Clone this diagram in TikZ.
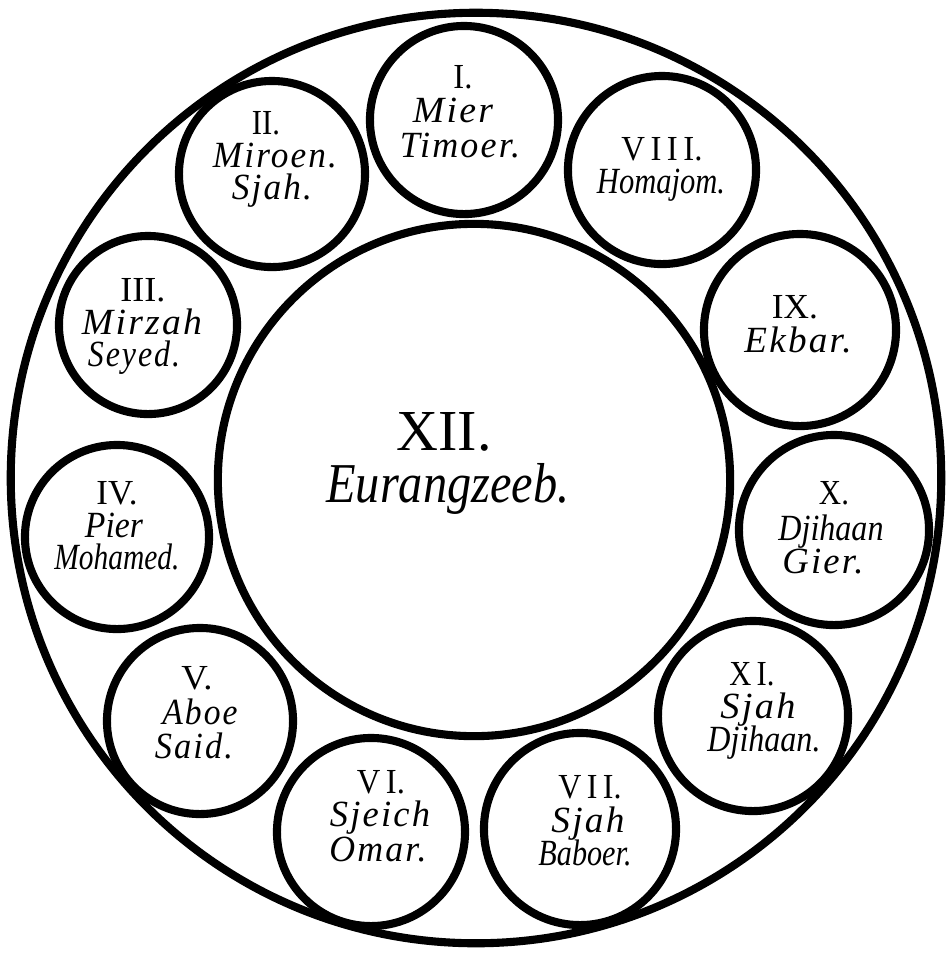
\documentclass[tikz,border=0pt]{standalone}
\usepackage{fontspec}
\usepackage{graphicx}
\setmainfont{Liberation Serif}
\newcommand\lsp[1]{{\addfontfeature{LetterSpace=6}#1}}
\newcommand\fw[2]{\resizebox{#1}{\height}{#2}}
\begin{document}
\begin{tikzpicture}[x=0.01cm,y=-0.01cm]
\tikzset{
  ring/.style={draw, circle, line width=2.3pt, inner sep=0pt},
  num/.style={anchor=base, inner sep=0pt, font=\fontsize{10}{11}\selectfont},
  nm/.style={anchor=base, inner sep=0pt, font=\fontsize{10.5}{12}\selectfont\itshape},
  bignum/.style={anchor=base, inner sep=0pt, font=\fontsize{16.5}{18}\selectfont},
  bignm/.style={anchor=base, inner sep=0pt, font=\fontsize{16}{18}\selectfont\itshape},
}
\useasboundingbox (0,0) rectangle (952,953);
% outer ring and centre
\node[ring, minimum size=9.30cm] (outer) at (476,478) {};
\node[ring, minimum size=5.12cm] (c12) at (474,480) {};
% small circles
\node[ring, minimum size=1.88cm] (c1) at (464,120) {};
\node[ring, minimum size=1.86cm] (c2) at (272,174) {};
\node[ring, minimum size=1.78cm] (c3) at (148,325) {};
\node[ring, minimum size=1.84cm] (c4) at (117,537) {};
\node[ring, minimum size=1.86cm] (c5) at (200,721) {};
\node[ring, minimum size=1.88cm] (c6) at (371,832) {};
\node[ring, minimum size=1.92cm] (c7) at (580,829) {};
\node[ring, minimum size=1.88cm] (c8) at (662,170) {};
\node[ring, minimum size=1.92cm] (c9) at (800,330) {};
\node[ring, minimum size=1.90cm] (c10) at (834,530) {};
\node[ring, minimum size=1.90cm] (c11) at (753,716) {};
% texts
\node[num] (t1a) at (463,88) {\fw{0.19cm}{I.}};
\node[nm]  (t1b) at (453,122) {\fw{0.80cm}{\lsp{Mier}}};
\node[nm]  (t1c) at (460,157) {\fw{1.20cm}{\lsp{Timoer.}}};

\node[num] (t2a) at (266,134) {\fw{0.28cm}{II.}};
\node[nm]  (t2b) at (275,167) {\fw{1.24cm}{\lsp{Miroen.}}};
\node[nm]  (t2c) at (272,199) {\fw{0.80cm}{\lsp{Sjah.}}};

\node[num] (t3a) at (143,301) {\fw{0.45cm}{III.}};
\node[nm]  (t3b) at (142,334) {\fw{1.20cm}{\lsp{Mirzah}}};
\node[nm]  (t3c) at (134,366) {\fw{0.92cm}{\lsp{Seyed.}}};

\node[num] (t4a) at (117,504) {\fw{0.41cm}{IV.}};
\node[nm]  (t4b) at (114,537) {\fw{0.58cm}{Pier}};
\node[nm]  (t4c) at (117,569) {\fw{1.25cm}{Mohamed.}};

\node[num] (t5a) at (197,689) {\fw{0.31cm}{V.}};
\node[nm]  (t5b) at (200,724) {\fw{0.75cm}{\lsp{Aboe}}};
\node[nm]  (t5c) at (194,758) {\fw{0.78cm}{\lsp{Said.}}};

\node[num] (t6a) at (381,793) {\fw{0.48cm}{V\,I.}};
\node[nm]  (t6b) at (380,826) {\fw{1.00cm}{\lsp{Sjeich}}};
\node[nm]  (t6c) at (378,861) {\fw{0.97cm}{\lsp{Omar.}}};

\node[num] (t7a) at (590,798) {\fw{0.63cm}{V\,I\,I.}};
\node[nm]  (t7b) at (588,832) {\fw{0.73cm}{\lsp{Sjah}}};
\node[nm]  (t7c) at (585,865) {\fw{0.93cm}{Baboer.}};

\node[num] (t8a) at (662,160) {\fw{0.81cm}{V\,I\,I\,I.}};
\node[nm]  (t8b) at (661,193) {\fw{1.28cm}{Homajom.}};

\node[num] (t9a) at (795,318) {\fw{0.46cm}{IX.}};
\node[nm]  (t9b) at (798,352) {\fw{1.07cm}{\lsp{Ekbar.}}};

\node[num] (t10a) at (834,504) {\fw{0.30cm}{X.}};
\node[nm]  (t10b) at (831,540) {\fw{1.05cm}{Djihaan}};
\node[nm]  (t10c) at (823,573) {\fw{0.81cm}{\lsp{Gier.}}};

\node[num] (t11a) at (752,685) {\fw{0.45cm}{X\,I.}};
\node[nm]  (t11b) at (758,718) {\fw{0.75cm}{\lsp{Sjah}}};
\node[nm]  (t11c) at (764,751) {\fw{1.13cm}{Djihaan.}};

\node[bignum] (t12a) at (444,450) {\fw{0.95cm}{XII.}};
\node[bignm]  (t12b) at (448,502) {\fw{2.43cm}{Eurangzeeb.}};
\end{tikzpicture}
\end{document}
